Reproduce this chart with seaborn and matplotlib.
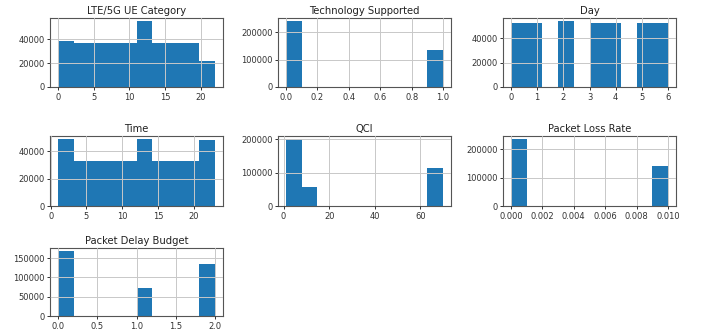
#!/usr/bin/env python3

import matplotlib
matplotlib.use("Agg")
import matplotlib.pyplot as plt
from matplotlib.ticker import MaxNLocator
import numpy as np
import seaborn as sns

BAR = "#1f77b4"

# per column: value range of the histogram and the 10 bin counts
lte_range = (0, 22)
lte_counts = [38500, 37000, 36500, 37000, 37000, 55000, 37000, 37000, 37000, 22000]

tech_range = (0, 1)
tech_counts = [240000, 0, 0, 0, 0, 0, 0, 0, 0, 135000]

day_range = (0, 6)
day_counts = [53000, 53000, 0, 54000, 0, 53000, 53000, 0, 53000, 53000]

time_range = (1, 23)
time_counts = [48500, 32500, 32500, 32500, 32500, 48500, 32500, 32500, 32500, 48000]

qci_range = (1, 70)
qci_counts = [200000, 58000, 0, 0, 0, 0, 0, 0, 0, 115000]

loss_range = (0, 0.01)
loss_counts = [235000, 0, 0, 0, 0, 0, 0, 0, 0, 140000]

delay_range = (0, 2)
delay_counts = [168000, 0, 0, 0, 0, 72000, 0, 0, 0, 135000]

panels = [
    ("LTE/5G UE Category", lte_range, lte_counts),
    ("Technology Supported", tech_range, tech_counts),
    ("Day", day_range, day_counts),
    ("Time", time_range, time_counts),
    ("QCI", qci_range, qci_counts),
    ("Packet Loss Rate", loss_range, loss_counts),
    ("Packet Delay Budget", delay_range, delay_counts),
]

sns.set_style("ticks")
plt.rcParams.update({
    "font.family": ["DejaVu Sans"],
    "font.size": 6,
    "xtick.labelsize": 6,
    "ytick.labelsize": 6,
    "axes.titlesize": 7.2,
    "axes.edgecolor": "#555555",
    "axes.linewidth": 0.8,
})

W, H = 701, 330
fig = plt.figure(figsize=(W / 100, H / 100), dpi=100)

cols = [(50, 223), (278, 451), (503, 676)]
rows = [(18, 87), (136, 206), (248, 316)]

for i, (title, rng, counts) in enumerate(panels):
    (x0, x1), (y0, y1) = cols[i % 3], rows[i // 3]
    ax = fig.add_axes([x0 / W, (H - y1) / H, (x1 - x0) / W, (y1 - y0) / H])
    edges = np.linspace(rng[0], rng[1], 11)
    centers = (edges[:-1] + edges[1:]) / 2
    sns.histplot(x=centers, weights=counts, bins=10, binrange=rng, ax=ax,
                 color=BAR, alpha=1, linewidth=0)
    ax.set_ylim(0, max(counts) * 1.05)
    ax.yaxis.set_major_locator(MaxNLocator(nbins=4, steps=[1, 2, 2.5, 5, 10]))
    ax.xaxis.set_major_locator(MaxNLocator(nbins=7, steps=[1, 2, 2.5, 5, 10]))
    ax.grid(True, color="#c8c8c8", linewidth=0.7)
    ax.set_axisbelow(False)
    ax.set_title(title, pad=3, color="#222222")
    ax.set_xlabel("")
    ax.set_ylabel("")
    ax.tick_params(length=2.5, width=0.7, pad=1.5, colors="#333333")
    for s in ax.spines.values():
        s.set_visible(True)

fig.savefig("out.png", dpi=100)
